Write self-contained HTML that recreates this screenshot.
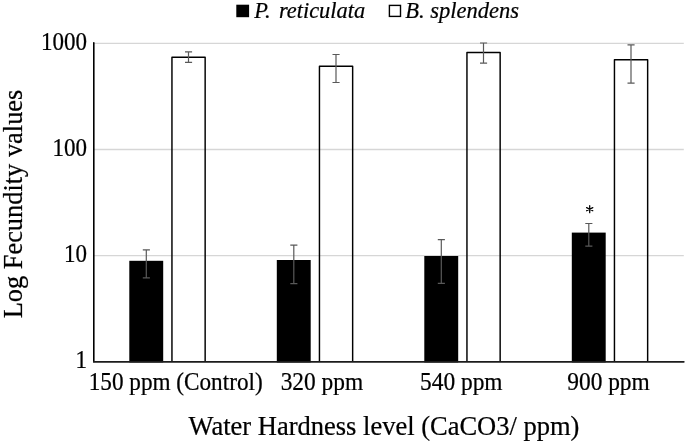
<!DOCTYPE html>
<html><head><meta charset="utf-8"><title>Chart</title>
<style>
html,body{margin:0;padding:0;background:#fff;}
body{width:685px;height:443px;overflow:hidden;}
svg{display:block;will-change:transform;}
text{font-family:"Liberation Serif",serif;fill:#000;stroke:#000;stroke-width:0.22px;}
</style></head><body>
<svg width="685" height="443" viewBox="0 0 685 443">
<rect x="0" y="0" width="685" height="443" fill="#fff"/>

<line x1="93.5" y1="43.4" x2="683.8" y2="43.4" stroke="#d6d6d6" stroke-width="1.3"/>
<line x1="93.5" y1="149.5" x2="683.8" y2="149.5" stroke="#d6d6d6" stroke-width="1.3"/>
<line x1="93.5" y1="255.65" x2="683.8" y2="255.65" stroke="#d6d6d6" stroke-width="1.3"/>
<rect x="129.30" y="260.8" width="33.90" height="101.60" fill="#000"/>
<path d="M171.95 361.8V57.2H205.15V361.8" fill="none" stroke="#000" stroke-width="1.45" stroke-linejoin="round"/>
<rect x="276.80" y="260.0" width="33.90" height="102.40" fill="#000"/>
<path d="M319.45 361.8V66.2H352.65V361.8" fill="none" stroke="#000" stroke-width="1.45" stroke-linejoin="round"/>
<rect x="424.30" y="256.0" width="33.90" height="106.40" fill="#000"/>
<path d="M466.95 361.8V52.4H500.15V361.8" fill="none" stroke="#000" stroke-width="1.45" stroke-linejoin="round"/>
<rect x="571.80" y="232.6" width="33.90" height="129.80" fill="#000"/>
<path d="M614.45 361.8V59.8H647.65V361.8" fill="none" stroke="#000" stroke-width="1.45" stroke-linejoin="round"/>
<path d="M93.8 42.8V361.8" fill="none" stroke="#000" stroke-width="1.6" stroke-linecap="round"/>
<path d="M93.8 361.8H683.8" fill="none" stroke="#1c1c1c" stroke-width="1.75" stroke-linecap="round"/>
<path d="M142.80 249.8H149.90M142.80 277.8H149.90M146.30 249.8V277.8" stroke="#595959" stroke-width="1.2" fill="none"/>
<path d="M185.00 51.9H192.10M185.00 62.3H192.10M188.50 51.9V62.3" stroke="#595959" stroke-width="1.2" fill="none"/>
<path d="M290.30 245.2H297.40M290.30 283.7H297.40M293.80 245.2V283.7" stroke="#595959" stroke-width="1.2" fill="none"/>
<path d="M332.50 54.5H339.60M332.50 82.5H339.60M336.00 54.5V82.5" stroke="#595959" stroke-width="1.2" fill="none"/>
<path d="M437.80 239.6H444.90M437.80 283.4H444.90M441.30 239.6V283.4" stroke="#595959" stroke-width="1.2" fill="none"/>
<path d="M480.00 43.0H487.10M480.00 63.1H487.10M483.50 43.0V63.1" stroke="#595959" stroke-width="1.2" fill="none"/>
<path d="M585.30 223.5H592.40M585.30 246.1H592.40M588.80 223.5V246.1" stroke="#595959" stroke-width="1.2" fill="none"/>
<path d="M627.50 44.8H634.60M627.50 83.1H634.60M631.00 44.8V83.1" stroke="#595959" stroke-width="1.2" fill="none"/>
<rect x="236.3" y="4.7" width="12.8" height="12.5" fill="#000"/>
<rect x="389.4" y="5.4" width="11.1" height="11.0" fill="#fff" stroke="#000" stroke-width="1.4"/>
<text x="254.3" y="18.1" font-size="22.4" word-spacing="2.6" font-style="italic">P. reticulata</text>
<text x="405.3" y="18.1" font-size="22.5" font-style="italic">B. splendens</text>
<text transform="translate(87.0,49.9) scale(1,1.10)" font-size="23" text-anchor="end">1000</text>
<text transform="translate(87.0,156.0) scale(1,1.10)" font-size="23" text-anchor="end">100</text>
<text transform="translate(87.0,262.1) scale(1,1.10)" font-size="23" text-anchor="end">10</text>
<text transform="translate(87.0,368.2) scale(1,1.10)" font-size="23" text-anchor="end">1</text>
<text transform="translate(175.7,389.9) scale(1,1.095)" font-size="23.2" text-anchor="middle">150 ppm (Control)</text>
<text transform="translate(321.9,389.9) scale(1,1.095)" font-size="23.4" text-anchor="middle">320 ppm</text>
<text transform="translate(461.3,389.9) scale(1,1.095)" font-size="23.4" text-anchor="middle">540 ppm</text>
<text transform="translate(608.5,389.9) scale(1,1.095)" font-size="23.4" text-anchor="middle">900 ppm</text>
<text x="384" y="435.3" font-size="26.5" text-anchor="middle">Water Hardness level (CaCO3/ ppm)</text>
<text transform="translate(21.9,204.0) rotate(-90)" font-size="26.4" text-anchor="middle">Log Fecundity values</text>
<path d="M589.7 205.7V212.7M586.6 207.6L592.8 210.8M592.8 207.6L586.6 210.8" stroke="#000" stroke-width="1.25" stroke-linecap="round" fill="none"/>
</svg></body></html>
